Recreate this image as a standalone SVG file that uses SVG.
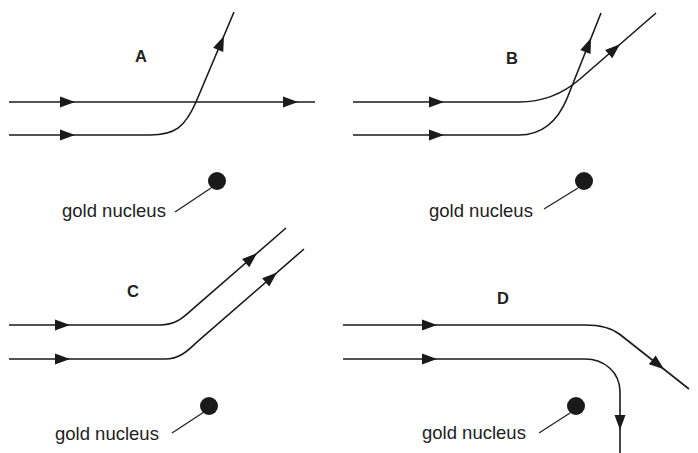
<svg xmlns="http://www.w3.org/2000/svg" xmlns:xlink="http://www.w3.org/1999/xlink" width="698" height="453" viewBox="0 0 698 453">
<style>
.ray{fill:none;stroke:#1a1a1a;stroke-width:1.6}
.ah{fill:#1a1a1a}
.nuc{fill:#1a1a1a}
.lead{stroke:#222;stroke-width:1.3;fill:none}
.lbl{font-family:"Liberation Sans",Arial,sans-serif;font-size:18.5px;fill:#222}
.pl{font-family:"Liberation Sans",Arial,sans-serif;font-size:16.5px;font-weight:bold;fill:#222;text-anchor:middle}
</style>
<defs>
<path id="ah" class="ah" d="M0,0 L-15,-5.5 L-15,5.5 Z"/>
</defs>
<rect width="698" height="453" fill="#fff"/>

<g id="connectors">
  <!-- A -->
  <path class="ray" d="M9,102 H315"/>
  <path class="ray" d="M9,135 H150 C175,135 185,127 196,102 L234,12"/>
  <use xlink:href="#ah" transform="translate(75,102)"/>
  <use xlink:href="#ah" transform="translate(298,102)"/>
  <use xlink:href="#ah" transform="translate(75,135)"/>
  <use xlink:href="#ah" transform="translate(224,36) rotate(-67.1)"/>
  <!-- B -->
  <path class="ray" d="M353,102 H519 C545,102 565,92 580,79 L656,13"/>
  <path class="ray" d="M353,135 H519 C545,135 559,118 567.2,98 L601,13"/>
  <use xlink:href="#ah" transform="translate(444,102)"/>
  <use xlink:href="#ah" transform="translate(444,135)"/>
  <use xlink:href="#ah" transform="translate(620,44.3) rotate(-41)"/>
  <use xlink:href="#ah" transform="translate(591,38) rotate(-68.3)"/>
  <!-- C -->
  <path class="ray" d="M9,325 H160 C175,325 182,318.4 190,311.4 L286,228"/>
  <path class="ray" d="M9,359 H165 C182,359 191,347 198,341.2 L304,249"/>
  <use xlink:href="#ah" transform="translate(70,325)"/>
  <use xlink:href="#ah" transform="translate(70,359)"/>
  <use xlink:href="#ah" transform="translate(257,253.2) rotate(-41)"/>
  <use xlink:href="#ah" transform="translate(277,272.5) rotate(-41)"/>
  <!-- D -->
  <path class="ray" d="M343,325 H585 C602,325 612,328.2 620,334.5 L689,389"/>
  <path class="ray" d="M343,359 H585 C604,359 620,372 620,392 V453"/>
  <use xlink:href="#ah" transform="translate(437,325)"/>
  <use xlink:href="#ah" transform="translate(437,359)"/>
  <use xlink:href="#ah" transform="translate(664,369.2) rotate(38.4)"/>
  <use xlink:href="#ah" transform="translate(620,430) rotate(90)"/>
</g>

<g id="panelA">
  <text class="pl" x="141" y="62">A</text>
  <circle class="nuc" cx="217" cy="181" r="9"/>
  <path class="lead" d="M175,212 L211,188"/>
  <text class="lbl" x="62" y="217">gold nucleus</text>
</g>
<g id="panelB">
  <text class="pl" x="512" y="64">B</text>
  <circle class="nuc" cx="584" cy="181" r="9"/>
  <path class="lead" d="M544,209 L578,188"/>
  <text class="lbl" x="429" y="217">gold nucleus</text>
</g>
<g id="panelC">
  <text class="pl" x="133" y="297">C</text>
  <circle class="nuc" cx="209" cy="406" r="9"/>
  <path class="lead" d="M172,433 L204,412"/>
  <text class="lbl" x="55" y="440">gold nucleus</text>
</g>
<g id="panelD">
  <text class="pl" x="503" y="304">D</text>
  <circle class="nuc" cx="576" cy="406" r="9"/>
  <path class="lead" d="M539,433 L570,413"/>
  <text class="lbl" x="422" y="439">gold nucleus</text>
</g>
</svg>
